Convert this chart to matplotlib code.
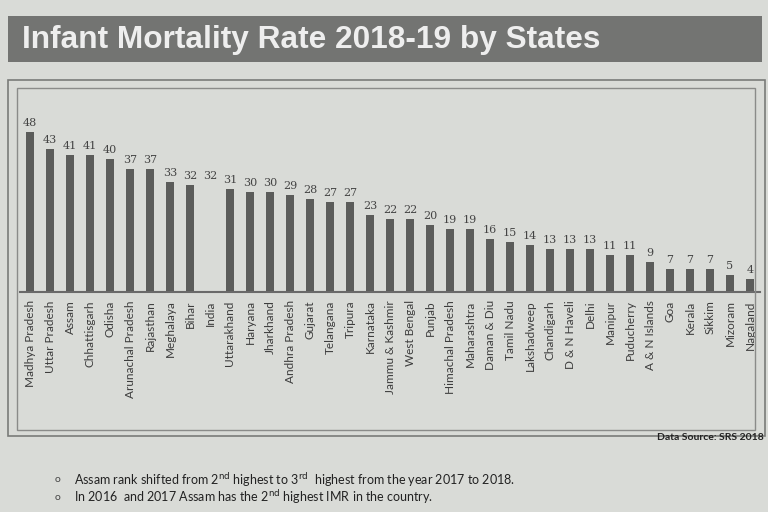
import numpy as np
import matplotlib.pyplot as plt
from matplotlib.patches import Rectangle

# datos
estados = ['Madhya Pradesh', 'Uttar Pradesh', 'Assam', 'Chhattisgarh', 'Odisha',
           'Arunachal Pradesh', 'Rajasthan', 'Meghalaya', 'Bihar', 'India',
           'Uttarakhand', 'Haryana', 'Jharkhand', 'Andhra Pradesh', 'Gujarat',
           'Telangana', 'Tripura', 'Karnataka', 'Jammu & Kashmir', 'West Bengal',
           'Punjab', 'Himachal Pradesh', 'Maharashtra', 'Daman & Diu', 'Tamil Nadu',
           'Lakshadweep', 'Chandigarh', 'D & N Haveli', 'Delhi', 'Manipur',
           'Puducherry', 'A & N Islands', 'Goa', 'Kerala', 'Sikkim', 'Mizoram',
           'Nagaland']
imr = [48, 43, 41, 41, 40, 37, 37, 33, 32, 32, 31, 30, 30, 29, 28, 27, 27, 23, 22,
       22, 20, 19, 19, 16, 15, 14, 13, 13, 13, 11, 11, 9, 7, 7, 7, 5, 4]

fondo = '#d9dbd7'
gris_barra = '#5b5c5a'

fig = plt.figure(figsize=(7.68, 5.12), dpi=100, facecolor=fondo)

#* banda del titulo
fig.patches.append(Rectangle((8/768, 1-62/512), 754/768, 46/512, transform=fig.transFigure,
                             facecolor='#737472', edgecolor='none'))
fig.text(22/768, 1-40/512, 'Infant Mortality Rate 2018-19 by States', color='#eeeeee',
         fontsize=22.8, fontweight='bold', family='Liberation Sans', va='center')

#* marcos del grafico
fig.patches.append(Rectangle((8/768, 1-436/512), 757/768, 356/512, transform=fig.transFigure,
                             facecolor='none', edgecolor='#7a7b79', lw=1.2))
fig.patches.append(Rectangle((17/768, 1-430/512), 738/768, 342/512, transform=fig.transFigure,
                             facecolor='none', edgecolor='#8a8b89', lw=1.0))

ax = fig.add_axes([20/768, 1-292/512, 740/768, 192/512])
ax.set_facecolor(fondo)
x = np.arange(len(estados))
colores = [fondo if e == 'India' else gris_barra for e in estados]
ax.bar(x, imr, width=0.36, color=colores)
for xi, v in zip(x, imr):
    ax.text(xi, v + 1.2, str(v), ha='center', va='bottom', fontsize=8,
            family='DejaVu Serif', color='#444444')
ax.set_xlim(-0.5, len(estados) - 0.5)
ax.set_ylim(0, 57.6)
ax.set_xticks(x)
ax.set_xticklabels(estados, rotation=90, fontsize=8.5, family='Lato', color='#3c3c3c')
ax.tick_params(axis='x', length=0, pad=6)
ax.set_yticks([])
for s in ['top', 'left', 'right']:
    ax.spines[s].set_visible(False)
ax.spines['bottom'].set_color('#6a6a6a')
ax.spines['bottom'].set_linewidth(1.5)

#* notas
fig.text(764/768, 1-438/512, 'Data Source: SRS 2018', ha='right', va='center',
         fontsize=7.5, fontweight='bold', family='Lato', color='#222222')
fig.text(55/768, 1-480/512, 'o', fontsize=7.5, family='Lato', color='#444444', va='center')
fig.text(74/768, 1-480/512, r'Assam rank shifted from 2$^{\mathrm{nd}}$ highest to 3$^{\mathrm{rd}}$  highest from the year 2017 to 2018.',
         fontsize=9, family='Lato', color='#222222', va='center')
fig.text(55/768, 1-497/512, 'o', fontsize=7.5, family='Lato', color='#444444', va='center')
fig.text(74/768, 1-497/512, r'In 2016  and 2017 Assam has the 2$^{\mathrm{nd}}$ highest IMR in the country.',
         fontsize=9, family='Lato', color='#222222', va='center')

plt.savefig('out.png', dpi=100, facecolor=fondo)
